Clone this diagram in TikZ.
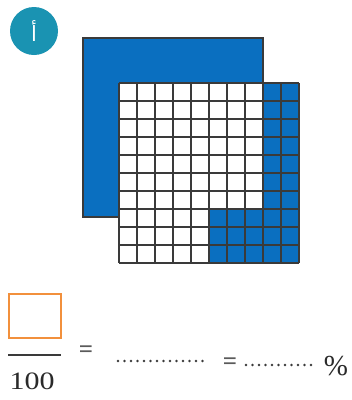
\documentclass[tikz,border=0pt]{standalone}
\usepackage{fontspec}
\setmainfont{Liberation Serif}
\newfontfamily\arabicfont[Script=Arabic]{DejaVu Sans}
\TeXXeTstate=1
\definecolor{tealA}{HTML}{1A93B2}
\definecolor{blueA}{HTML}{0A6FC0}
\definecolor{frameA}{HTML}{3A3A3A}
\definecolor{orngA}{HTML}{F2903C}
\definecolor{txtA}{HTML}{2A2A2A}
\definecolor{eqA}{HTML}{5A5A5A}
\begin{document}
\begin{tikzpicture}[x=1pt,y=-1pt,
  gridline/.style={draw=frameA, line width=2pt},
  dotline/.style={draw=frameA, line width=2.8pt, line cap=round, dash pattern=on 0pt off 6.5pt},
  eqsign/.style={text=eqA, font=\bfseries\fontsize{25}{28}\selectfont, inner sep=0pt},
  numtext/.style={text=txtA, font=\fontsize{25}{30}\selectfont, inner sep=0pt}]
\useasboundingbox (0,0) rectangle (352,400);
\fill[white] (0,0) rectangle (352,400);
% badge
\node[circle, fill=tealA, minimum size=48pt, inner sep=0pt] (badge) at (34,31) {};
\node[text=white, font=\arabicfont\fontsize{21}{26}\selectfont, inner sep=0pt] (alef) at (34,31) {\beginR أ\endR};
% big blue square
\draw[fill=blueA, draw=frameA, line width=1.5pt] (83,38) rectangle (263,217);
% hundred grid
\fill[white] (119,83) rectangle (299,263);
\fill[blueA] (263,83) rectangle (299,263);
\fill[blueA] (209,209) rectangle (299,263);
\foreach \k in {0,...,10} {
  \draw[gridline] (119+18*\k,83) -- (119+18*\k,263);
  \draw[gridline] (119,83+18*\k) -- (299,83+18*\k);
}
% fraction
\node[draw=orngA, line width=2pt, minimum width=52pt, minimum height=44pt, inner sep=0pt] (box) at (34.5,315.5) {};
\coordinate (fl) at (8,355);
\coordinate (fr) at (61,355);
\draw[draw=frameA, line width=2pt] (fl) -- (fr);
\node[numtext, xscale=1.2] (den) at (32,381) {100};
\node[eqsign] (eq1) at (86,352) {=};
\coordinate (d1a) at (118,361);
\coordinate (d1b) at (209,361);
\draw[dotline] (d1a) -- (d1b);
\node[eqsign] (eq2) at (230,364) {=};
\coordinate (d2a) at (246,365);
\coordinate (d2b) at (315,365);
\draw[dotline] (d2a) -- (d2b);
\node[numtext, font=\fontsize{29}{34}\selectfont] (pct) at (336,366) {\%};
\end{tikzpicture}
\end{document}
